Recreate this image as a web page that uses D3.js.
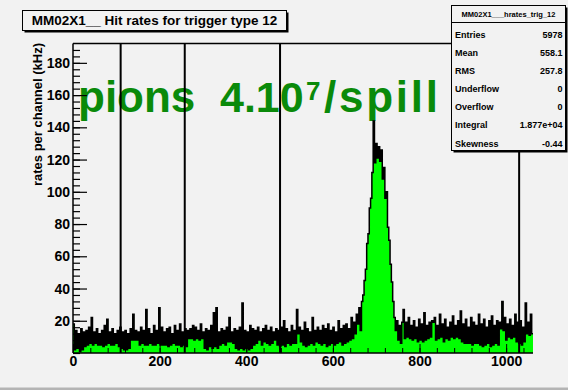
<!DOCTYPE html>
<html>
<head>
<meta charset="utf-8">
<script src="https://cdn.jsdelivr.net/npm/d3@7"></script>
<style>
  html, body { margin: 0; padding: 0; background: #f2f2f2; }
  svg { display: block; }
  text { font-family: "Liberation Sans", Arial, Helvetica, sans-serif; font-weight: bold; }
</style>
</head>
<body>
<svg id="chart" width="568" height="390"></svg>
<script>
// Hit rates per channel, one value per 3-channel bin starting at channel 0
const binWidth = 3;
const rates = [
  18, 2, 14, 3, 12, 1, 15, 2, 13, 4,
  14, 5, 16, 6, 22, 5, 13, 6, 15, 5,
  12, 5, 14, 4, 17, 5, 21, 6, 13, 5,
  15, 5, 12, 6, 14, 4, 16, 3, 13, 2,
  14, 2, 12, 3, 15, 8, 24, 8, 14, 8,
  13, 5, 16, 6, 14, 5, 27, 5, 15, 6,
  12, 5, 17, 5, 14, 6, 28, 5, 16, 5,
  13, 5, 15, 4, 16, 5, 12, 6, 17, 5,
  14, 5, 18, 4, 13, 5, 15, 4, 14, 9,
  15, 9, 17, 8, 16, 9, 14, 8, 18, 9,
  13, 3, 15, 2, 14, 4, 17, 3, 25, 4,
  28, 3, 13, 5, 15, 6, 14, 5, 16, 7,
  22, 7, 13, 6, 15, 3, 14, 2, 16, 3,
  31, 2, 14, 3, 13, 2, 17, 3, 15, 5,
  14, 6, 16, 8, 13, 5, 15, 7, 17, 6,
  14, 5, 16, 6, 13, 8, 15, 5, 14, 4,
  16, 5, 20, 4, 15, 6, 13, 5, 17, 6,
  14, 6, 27, 12, 16, 7, 14, 5, 19, 4,
  15, 5, 13, 6, 22, 5, 14, 7, 16, 6,
  14, 5, 17, 6, 15, 4, 18, 5, 14, 6,
  16, 5, 13, 6, 20, 7, 15, 5, 17, 6,
  18, 7, 15, 8, 22, 9, 19, 12, 24, 18,
  28, 14, 32, 36, 45, 52, 68, 74, 90, 96,
  112, 144, 118, 130, 121, 128, 119, 126, 108, 115,
  96, 100, 78, 70, 55, 44, 32, 22, 14, 20,
  8, 17, 6, 19,
  27, 9, 19, 10, 22, 9, 17, 8, 20, 9,
  16, 7, 21, 8, 18, 7, 25, 8, 17, 9,
  19, 10, 20, 19, 22, 8, 17, 9, 24, 10,
  18, 7, 21, 9, 16, 8, 19, 10, 23, 9,
  17, 10, 20, 9, 26, 7, 18, 6, 21, 6,
  16, 6, 22, 5, 19, 6, 17, 6, 24, 5,
  18, 4, 21, 5, 16, 6, 20, 4, 23, 5,
  17, 6, 20, 5, 19, 15, 32, 14, 22, 8,
  18, 10, 21, 9, 17, 10, 24, 7, 19, 6,
  20, 5, 16, 7, 31, 12, 19, 11, 24, 12
];

// Channel positions of the chip boundary markers
const markers = [110, 258, 478, 1030];

// Axis ticks
const xTickValues = [0, 200, 400, 600, 800, 1000];
const yTickValues = [20, 40, 60, 80, 100, 120, 140, 160, 180];

const titleText = "MM02X1__ Hit rates for trigger type 12";
const yTitle = "rates per channel (kHz)";
const statsName = "MM02X1___hrates_trig_12";
const statsLabels = ["Entries", "Mean", "RMS", "Underflow", "Overflow", "Integral", "Skewness"];
const statsValues = ["5978", "558.1", "257.8", "0", "0", "1.877e+04", "-0.44"];

const svg = d3.select("#chart");

const frame = { left: 73, right: 533, top: 43.5, bottom: 353 };
const x = d3.scaleLinear().domain([0, rates.length * binWidth]).range([frame.left, frame.right]);
const y = d3.scaleLinear().domain([0, 192]).range([frame.bottom, frame.top]);

// page background and bottom edge
svg.append("rect").attr("width", 568).attr("height", 390).attr("fill", "#f2f2f2");
svg.append("rect").attr("x", 0).attr("y", 387.5).attr("width", 568).attr("height", 3).attr("fill", "#b4b4b4");

// Bin points for step drawing (extra point closes the last bin)
const pts = rates.map((v, i) => [i * binWidth, v]);
pts.push([rates.length * binWidth, rates[rates.length - 1]]);

const area = d3.area()
  .x(d => x(d[0])).y0(y(0)).y1(d => y(d[1]))
  .curve(d3.curveStepAfter);
const line = d3.line()
  .x(d => x(d[0])).y(d => y(d[1]))
  .curve(d3.curveStepAfter);

// big annotation
const note = svg.append("text")
  .attr("fill", "#0a8a0a")
  .attr("font-size", 44);
note.append("tspan").attr("x", 78).attr("y", 112).text("pions");
note.append("tspan").attr("x", 220).attr("y", 112).attr("font-size", 43).text("4.10");
note.append("tspan").attr("x", 306).attr("y", 100).attr("font-size", 26).text("7");
note.append("tspan").attr("x", 324).attr("y", 112)
  .attr("textLength", 114).attr("lengthAdjust", "spacing").text("/spill");

svg.append("path").datum(pts).attr("d", area).attr("fill", "#00ff00");
svg.append("path").datum(pts).attr("d", line)
  .attr("fill", "none").attr("stroke", "#000").attr("stroke-width", 1.5);

// marker lines
svg.append("g").selectAll("line").data(markers).join("line")
  .attr("x1", d => x(d)).attr("x2", d => x(d))
  .attr("y1", frame.top).attr("y2", frame.bottom)
  .attr("stroke", "#000").attr("stroke-width", 2);

// frame top, left and bottom
svg.append("line").attr("x1", frame.left).attr("x2", frame.right)
  .attr("y1", frame.top).attr("y2", frame.top).attr("stroke", "#000").attr("stroke-width", 1.5);
svg.append("line").attr("x1", frame.left).attr("x2", frame.left)
  .attr("y1", frame.top).attr("y2", frame.bottom).attr("stroke", "#000").attr("stroke-width", 1.5);
svg.append("line").attr("x1", frame.left).attr("x2", frame.right)
  .attr("y1", frame.bottom).attr("y2", frame.bottom).attr("stroke", "#000").attr("stroke-width", 1.5);

// y axis: major ticks inward with labels, minor ticks every 4
const yMinor = d3.range(0, 192, 4);
svg.append("g").attr("transform", `translate(${frame.left},0)`)
  .call(d3.axisLeft(y).tickValues(yMinor).tickSize(-7).tickFormat(""))
  .call(g => g.select(".domain").remove())
  .call(g => g.selectAll("line").attr("stroke-width", 1.2));
svg.append("g").attr("transform", `translate(${frame.left},0)`)
  .call(d3.axisLeft(y).tickValues(yTickValues).tickSize(-14).tickPadding(3))
  .call(g => g.select(".domain").remove())
  .call(g => g.selectAll("line").attr("stroke-width", 1.2))
  .call(g => g.selectAll("text").attr("font-size", 14).attr("fill", "#000")
    .attr("font-family", "Liberation Sans, Arial, sans-serif").attr("font-weight", "bold"));

// x axis
svg.append("g").attr("transform", `translate(0,${frame.bottom})`)
  .call(d3.axisBottom(x).tickValues(d3.range(0, 1062, 40)).tickSize(-5).tickFormat(""))
  .call(g => g.select(".domain").remove());
svg.append("g").attr("transform", `translate(0,${frame.bottom})`)
  .call(d3.axisBottom(x).tickValues(xTickValues).tickSize(-9).tickPadding(3).tickFormat(d3.format("d")))
  .call(g => g.select(".domain").remove())
  .call(g => g.selectAll("text").attr("font-size", 14).attr("fill", "#000")
    .attr("font-family", "Liberation Sans, Arial, sans-serif").attr("font-weight", "bold"));

// y axis title
svg.append("text")
  .attr("transform", "translate(42,43) rotate(-90)")
  .attr("text-anchor", "end")
  .attr("font-size", 13)
  .attr("fill", "#000")
  .text(yTitle);

// boxes with a drop shadow
function shadowBox(x0, y0, w, h) {
  svg.append("rect").attr("x", x0 + 2).attr("y", y0 + 2).attr("width", w).attr("height", h).attr("fill", "#000");
  svg.append("rect").attr("x", x0).attr("y", y0).attr("width", w).attr("height", h)
    .attr("fill", "#f2f2f2").attr("stroke", "#000").attr("stroke-width", 1);
}
shadowBox(22.5, 10.5, 264, 20);
svg.append("text").attr("x", 154.5).attr("y", 25).attr("text-anchor", "middle")
  .attr("font-size", 13.5).attr("fill", "#000").text(titleText);

// statistics box
const sb = { x: 451.5, y: 5.5, w: 114, h: 145 };
shadowBox(sb.x, sb.y, sb.w, sb.h);
svg.append("line").attr("x1", sb.x).attr("x2", sb.x + sb.w).attr("y1", 22.5).attr("y2", 22.5)
  .attr("stroke", "#000").attr("stroke-width", 1);
svg.append("text").attr("x", sb.x + sb.w / 2).attr("y", 16.5).attr("text-anchor", "middle")
  .attr("font-size", 7.5).attr("fill", "#000").text(statsName);
const rowY = d3.scaleLinear().domain([0, statsLabels.length - 1]).range([37.5, 146.5]);
svg.append("g").selectAll("text").data(statsLabels).join("text")
  .attr("x", sb.x + 3.5).attr("y", (d, i) => rowY(i))
  .attr("font-size", 9).attr("fill", "#000").text(d => d);
svg.append("g").selectAll("text").data(statsValues).join("text")
  .attr("x", sb.x + sb.w - 3).attr("y", (d, i) => rowY(i)).attr("text-anchor", "end")
  .attr("font-size", 9).attr("fill", "#000").text(d => d);
</script>
</body>
</html>
